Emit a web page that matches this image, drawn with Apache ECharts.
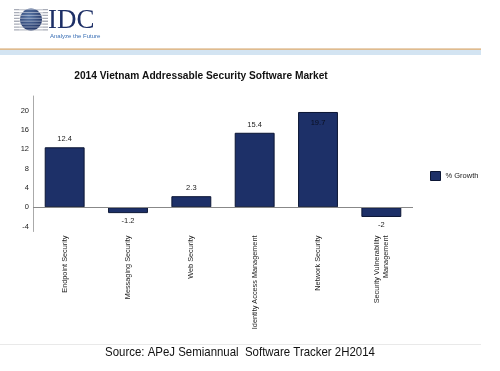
<!DOCTYPE html>
<html>
<head>
<meta charset="utf-8">
<script src="https://cdn.jsdelivr.net/npm/echarts@6/dist/echarts.min.js"></script>
<style>html,body{margin:0;padding:0;background:#fff;}#c{width:500px;height:371px;}</style>
</head>
<body>
<div id="c"></div>
<script>
const categories = ['Endpoint Security', 'Messaging Security', 'Web Security', 'Identity Access Management', 'Network Security', 'Security Vulnerability\nManagement'];
const growth = [12.4, -1.2, 2.3, 15.4, 19.7, -2];
const seriesName = '% Growth';
const titleText = '2014 Vietnam Addressable Security Software Market';
const sourceText = 'Source: APeJ Semiannual  Software Tracker 2H2014';

const chart = echarts.init(document.getElementById('c'), null, {renderer: 'canvas'});

const stripes = [];
for (let i = 0; i < 8; i++) {
  const y = 9 + i * 2.9;
  stripes.push({type: 'rect', shape: {x: 14, y: y, width: 34, height: 1.3}, style: {fill: '#a9adb8'}, z: 1});
}
const globeLines = [];
for (let i = 0; i < 8; i++) {
  const y = 9.6 + i * 2.9;
  globeLines.push({type: 'line', shape: {x1: 19, y1: y, x2: 43, y2: y}, style: {stroke: 'rgba(255,255,255,0.55)', lineWidth: 0.8}, z: 4});
}

chart.setOption({
  animation: false,
  backgroundColor: '#ffffff',
  legend: {
    data: [{name: seriesName, icon: 'rect'}],
    left: 425, top: 166,
    itemWidth: 10, itemHeight: 9, itemGap: 6,
    itemStyle: {borderColor: '#0b1534', borderWidth: 1},
    textStyle: {fontFamily: 'Liberation Sans, Arial', fontSize: 7.5, color: '#222'}
  },
  grid: {left: 33, right: 87, top: 96, bottom: 139.5},
  xAxis: {
    type: 'category',
    data: categories,
    axisLine: {show: false, onZero: false},
    axisTick: {show: false},
    axisLabel: {rotate: 90, interval: 0, margin: 4, fontFamily: 'Liberation Sans, Arial', fontSize: 7.3, color: '#222', lineHeight: 9}
  },
  yAxis: {
    type: 'value',
    min: -5, max: 23, interval: 1,
    splitLine: {show: false},
    axisTick: {show: false},
    axisLine: {show: true, lineStyle: {color: '#aaa', width: 1}},
    axisLabel: {
      margin: 4, fontFamily: 'Liberation Sans, Arial', fontSize: 7.5, color: '#222',
      formatter: function (v) { return (v % 4 === 0) ? String(v) : ''; }
    }
  },
  series: [{
    name: seriesName,
    type: 'bar',
    barWidth: '63%',
    data: growth.map(function (v) {
      const d = {value: v};
      if (v === 19.7) d.label = {position: 'insideTop', distance: 7, color: '#0a0f20'};
      else if (v < 0) d.label = {position: 'bottom', distance: 4};
      return d;
    }),
    itemStyle: {color: '#1d3068', borderColor: '#0b1534', borderWidth: 1},
    label: {
      show: true, position: 'top', distance: 4,
      fontFamily: 'Liberation Sans, Arial', fontSize: 7.5, color: '#222',
      formatter: function (p) { return String(p.value); }
    },
    markLine: {
      silent: true, symbol: 'none',
      label: {show: false},
      lineStyle: {color: '#888', type: 'solid', width: 1},
      data: [{yAxis: 0}]
    }
  }],
  graphic: [
    ...stripes,
    {type: 'circle', shape: {cx: 31, cy: 19.5, r: 11}, z: 3,
      style: {fill: new echarts.graphic.RadialGradient(0.4, 0.35, 0.8, [{offset: 0, color: '#5a78a8'}, {offset: 1, color: '#17285a'}])}},
    ...globeLines,
    {type: 'text', left: 48, top: 7, z: 5, style: {text: 'IDC', font: '27px "Liberation Serif", "DejaVu Serif", serif', fill: '#1d2f66'}},
    {type: 'text', left: 50, top: 33, z: 5, style: {text: 'Analyze the Future', font: '6px "Liberation Sans", Arial', fill: '#3a6fb5'}},
    {type: 'rect', shape: {x: 0, y: 48.5, width: 481, height: 1.3}, style: {fill: '#d4a46a'}},
    {type: 'rect', shape: {x: 0, y: 50, width: 481, height: 5}, style: {fill: '#d3e4f2'}},
    {type: 'text', x: 201, y: 76, style: {text: titleText, font: 'bold 10.2px "Liberation Sans", Arial', fill: '#111', textAlign: 'center', textVerticalAlign: 'middle'}},
    {type: 'rect', shape: {x: 0, y: 344, width: 481, height: 0.8}, style: {fill: '#e2e2e2'}},
    {type: 'text', x: 240, y: 352.5, scaleX: 0.88, style: {text: sourceText, font: '13px "Liberation Sans", Arial', fill: '#111', textAlign: 'center', textVerticalAlign: 'middle'}}
  ]
});
</script>
</body>
</html>
